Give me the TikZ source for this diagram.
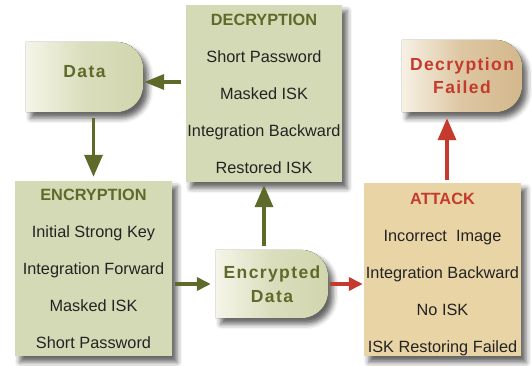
\documentclass[tikz,border=0pt]{standalone}
\usepackage{fontspec}
\setmainfont{Liberation Sans}
\usetikzlibrary{arrows.meta,backgrounds,shadows.blur}

\definecolor{olivebox}{RGB}{213,218,182}
\definecolor{olivetext}{RGB}{94,106,42}
\definecolor{sandbox}{RGB}{233,212,166}
\definecolor{attackred}{RGB}{196,58,44}
\definecolor{bodytext}{RGB}{35,35,35}
\definecolor{dataleft}{RGB}{245,245,232}
\definecolor{dataright}{RGB}{209,214,174}
\definecolor{failleft}{RGB}{247,241,228}
\definecolor{failright}{RGB}{212,184,140}

\def\termrad{27pt}

\tikzset{
  listbox/.style={rectangle, inner sep=0pt, align=center, text=bodytext,
    font=\fontsize{16.3}{37}\selectfont},
  termbox/.style={rectangle, inner sep=0pt, align=center,
    font=\fontsize{17.5}{23.5}\selectfont\bfseries\addfontfeature{LetterSpace=8}},
  boxshadow/.style={blur shadow={shadow xshift=5pt, shadow yshift=-6pt,
    shadow blur radius=5pt, shadow opacity=60}},
  flowbig/.style={line width=3.5pt, color=olivetext, -{Triangle[length=22pt,width=18pt]}},
  flowmid/.style={line width=3.5pt, color=olivetext, -{Triangle[length=20pt,width=15pt]}},
  flowsmall/.style={line width=3.5pt, color=olivetext, -{Triangle[length=14pt,width=13pt]}}
}

\begin{document}
\begin{tikzpicture}[x=1pt, y=1pt]
\useasboundingbox (0,0) rectangle (532,366);

% --- terminals ---
\node[termbox, text=olivetext, minimum width=117pt, minimum height=70pt, text depth=12pt]
  (data) at (84.5,289) {Data};
\node[termbox, text=olivetext, minimum width=112pt, minimum height=68pt]
  (encdata) at (272,82) {Encrypted\\Data};
\node[termbox, text=attackred, minimum width=120pt, minimum height=72pt]
  (failed) at (462,290) {Decryption\\Failed};

% --- step lists ---
\node[listbox, minimum width=156pt, minimum height=177pt] (dec) at (264,272.5)
  {{\bfseries\color{olivetext}DECRYPTION}\\Short Password\\Masked ISK\\Integration Backward\\Restored ISK};
\node[listbox, minimum width=157pt, minimum height=175pt] (enc) at (93.5,97.5)
  {{\bfseries\color{olivetext}ENCRYPTION}\\Initial Strong Key\\Integration Forward\\Masked ISK\\Short Password};
\node[listbox, minimum width=157pt, minimum height=171pt] (attack) at (442.5,96.5)
  {\rule{0pt}{22pt}{\bfseries\color{attackred}ATTACK}\\Incorrect\ \ Image\\Integration Backward\\No ISK\\ISK Restoring Failed};

% --- fills and shadows behind the text ---
\begin{scope}[on background layer]
  \foreach \bx/\col in {dec/olivebox, enc/olivebox, attack/sandbox}
    \fill[boxshadow, \col] (\bx.south west) rectangle (\bx.north east);
  \foreach \term/\lcol/\rcol in {data/dataleft/dataright, encdata/dataleft/dataright, failed/failleft/failright}
    \fill[boxshadow, left color=\lcol, right color=\rcol, middle color=\rcol!75!\lcol]
      (\term.south west) -- (\term.north west) -- ([xshift=-\termrad]\term.north east)
      arc[start angle=90, end angle=0, radius=\termrad]
      -- ([yshift=\termrad]\term.south east)
      arc[start angle=0, end angle=-90, radius=\termrad] -- cycle;
\end{scope}

% --- connectors ---
\coordinate (dataIn) at ([yshift=-5pt]data.east);
\coordinate (atkOut) at ([xshift=4.5pt]attack.north);
\draw[flowmid, shorten <=5pt, shorten >=1pt] (dec.west |- dataIn) -- (dataIn);
\draw[flowbig, shorten <=6pt, shorten >=4pt] (enc.north |- data.south) -- (enc.north);
\draw[flowsmall, shorten <=3pt, shorten >=5pt] (enc.east |- encdata.west) -- (encdata.west);
\draw[flowbig, shorten <=4pt, shorten >=3pt] (dec.south |- encdata.north) -- (dec.south);
\draw[flowsmall, attackred, shorten <=2pt, shorten >=1pt] (encdata.east) -- (encdata.east -| attack.west);
\draw[flowbig, attackred, shorten <=3pt, shorten >=6pt] (atkOut) -- (atkOut |- failed.south);

\end{tikzpicture}
\end{document}
